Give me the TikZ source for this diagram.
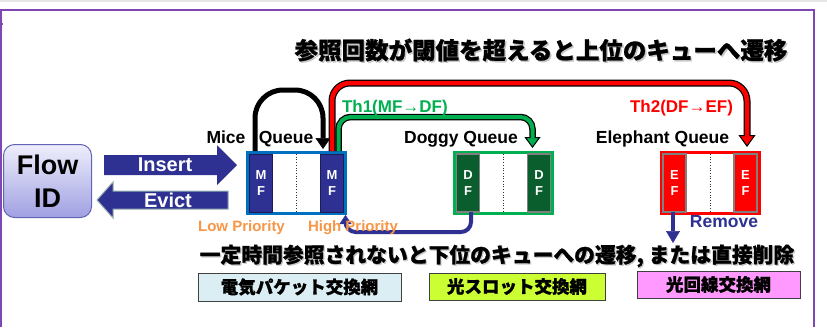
\documentclass[tikz,border=0pt]{standalone}
\usepackage{fontspec}
\setmainfont{Liberation Sans}
\newfontfamily\jp{Noto Sans CJK JP}[BoldFeatures={FakeBold=1}]
\usetikzlibrary{arrows.meta,calc}
\definecolor{navy}{RGB}{46,49,146}
\definecolor{qblue}{RGB}{0,112,192}
\definecolor{qgreen}{RGB}{0,176,80}
\definecolor{dgreen}{RGB}{10,94,46}
\definecolor{qred}{RGB}{255,0,0}
\definecolor{prio}{RGB}{247,150,70}
\definecolor{framepurple}{RGB}{128,70,180}
\definecolor{boxA}{RGB}{218,238,243}
\definecolor{boxB}{RGB}{204,255,51}
\definecolor{boxC}{RGB}{255,153,255}
\definecolor{cellgray}{RGB}{128,128,128}
\definecolor{flowtop}{RGB}{238,238,252}
\definecolor{flowbot}{RGB}{160,160,226}
\definecolor{flowborder}{RGB}{100,100,180}
\definecolor{evictedge}{RGB}{150,175,175}
\begin{document}
\begin{tikzpicture}[x=1pt,y=-1pt,
  every node/.style={inner sep=0pt, outer sep=0pt},
  lbl/.style={font=\bfseries\fontsize{#1}{#1}\selectfont},
  qbox/.style={draw=#1, line width=3pt, fill=white, minimum width=98pt, minimum height=61pt},
  cellbox/.style={fill=#1, minimum width=23pt, minimum height=58pt, text=white, align=center,
    font=\bfseries\fontsize{13}{16}\selectfont},
  slotline/.style={dotted, line width=0.7pt, black!80},
  jpbox/.style={fill=#1, draw=black!75, line width=1pt, font=\jp\bfseries\fontsize{17.5}{17.5}\selectfont},
  titlefont/.style={font=\jp\bfseries\fontsize{#1}{#1}\selectfont},
  bigarrowtext/.style={text=white, font=\bfseries\fontsize{20}{20}\selectfont}
]
\useasboundingbox (0,0) rectangle (827,327);
\fill[white] (0,0) rectangle (827,327);
% frame
\draw[gray!20, line width=2pt] (0,1) -- (827,1);
\draw[framepurple, line width=2pt] (1,327) -- (1,10) -- (814,10) -- (814,327);
\draw[framepurple, line width=1.5pt] (0,24) -- (3,24);

% title (with soft shadow)
\node[titlefont=23.5, text=gray!45] (titleshadow) at (542.5,51.5)
  {参照回数が閾値を超えると上位のキューへ遷移};
\node[titlefont=23.5] (title) at (541,50)
  {参照回数が閾値を超えると上位のキューへ遷移};

% Flow ID
\node[draw=flowborder, line width=1pt, rounded corners=11pt, top color=flowtop, bottom color=flowbot,
  minimum width=88pt, minimum height=73pt, align=center,
  font=\bfseries\fontsize{27}{32.5}\selectfont] (flow) at (47.5,181) {Flow\\ID};

% Insert / Evict
\fill[navy] (104,155) -- (217,155) -- (217,145) -- (237,165) -- (217,185) -- (217,175) -- (104,175) -- cycle;
\node[bigarrowtext] (insert) at (165,165) {Insert};
\filldraw[fill=navy, draw=evictedge, line width=1pt] (228,191) -- (113,191) -- (113,182) -- (97,200)
  -- (113,218) -- (113,209) -- (228,209) -- cycle;
\node[bigarrowtext] (evict) at (168,200) {Evict};

% queues
\node[qbox=qblue] (mq) at (296.5,183) {};
\node[qbox=qgreen] (dq) at (503,183) {};
\node[qbox=qred] (eq) at (710,183) {};
\foreach \q in {mq,dq,eq}{
  \draw[slotline] ($(\q.center)+(0,-29)$) -- ($(\q.center)+(0,29)$);
}
\node[cellbox=navy, draw=navy!60!black, line width=0.8pt] (mL) at (261,183) {M\\F};
\node[cellbox=navy, draw=navy!60!black, line width=0.8pt] (mR) at (332,183) {M\\F};
\node[cellbox=dgreen, draw=cellgray, line width=1.2pt] (dL) at (468,183) {D\\F};
\node[cellbox=dgreen, draw=cellgray, line width=1.2pt] (dR) at (539,183) {D\\F};
\node[cellbox=qred, draw=cellgray, line width=1.2pt] (eL) at (674.5,183) {E\\F};
\node[cellbox=qred, draw=cellgray, line width=1.2pt] (eR) at (745.5,183) {E\\F};

% connector end points
\coordinate (bs) at ($(mL.north)+(-6,-3)$);
\coordinate (be) at ($(mR.north)+(-9,-5)$);
\coordinate (rs) at ($(mR.north)+(0,-3)$);
\coordinate (re) at ($(eR.north)+(1.5,-7)$);
\coordinate (gs) at ($(mR.north)+(6.5,-3)$);
\coordinate (ge) at ($(dR.north)+(-6.5,-6)$);
\coordinate (ds) at ($(dL.south)+(3,0)$);
\coordinate (dt) at ($(mq.south east)+(0,1.5)$);
\coordinate (rm1) at ($(eL.south)+(-1.5,0)$);
\coordinate (rm2) at ($(rm1)+(0,31)$);

% black loop
\draw[black, line width=5pt, rounded corners=28pt,
  -{Triangle[width=15pt,length=11pt,line width=0.5pt]}] (bs) -- ++(0,-61) -| (be);
% red Th2
\draw[black, line width=7pt, rounded corners=18pt,
  -{Triangle[width=17pt,length=12pt,line width=1pt,fill=qred]}] (rs) -- ++(0,-68) -| (re);
\draw[qred, line width=4.5pt, rounded corners=18pt, shorten >=11pt] (rs) -- ++(0,-68) -| (re);
% green Th1
\draw[black, line width=6.5pt, rounded corners=12pt,
  -{Triangle[width=16pt,length=11pt,line width=1pt,fill=qgreen]}] (gs) -- ++(0,-34) -| (ge);
\draw[qgreen, line width=4pt, rounded corners=12pt, shorten >=10pt] (gs) -- ++(0,-34) -| (ge);
% blue return
\draw[navy, line width=4pt, rounded corners=10pt,
  -{Triangle[width=12pt,length=9pt,line width=0.5pt]}] (ds) -- ++(0,20) -| (dt);
% remove
\draw[navy, line width=4pt, -{Triangle[width=14pt,length=12pt,line width=0.5pt]}] (rm1) -- (rm2);

% labels
\node[lbl=17.5, anchor=base] (micel) at (226,143) {Mice};
\node[lbl=17.5, anchor=base] (queuel) at (286,143) {Queue};
\node[lbl=17.5, anchor=base] (doggyl) at (461,143) {Doggy Queue};
\node[lbl=17.5, anchor=base] (elephl) at (662.5,143) {Elephant Queue};
\node[lbl=17, text=qgreen, anchor=base west] (th1) at (342,112) {Th1(MF→DF)};
\node[lbl=17, text=qred, anchor=base east] (th2) at (733,112) {Th2(DF→EF)};
\node[lbl=15, text=prio, anchor=base] (low) at (241.5,231) {Low Priority};
\node[lbl=15, text=prio, anchor=base] (high) at (353,231) {High Priority};
\node[lbl=17.5, text=navy, anchor=base] (remove) at (724,227) {Remove};

% bottom text (with soft shadow)
\node[titlefont=20.8, text=gray!45] (subshadow) at (498.2,257.2)
  {一定時間参照されないと下位のキューへの遷移, または直接削除};
\node[titlefont=20.8] (sub) at (497,256)
  {一定時間参照されないと下位のキューへの遷移, または直接削除};

% network boxes
\node[jpbox=boxA, minimum width=203pt, minimum height=28pt] (netA) at (299.5,287) {電気パケット交換網};
\node[jpbox=boxB, minimum width=176pt, minimum height=27pt] (netB) at (517,286.5) {光スロット交換網};
\node[jpbox=boxC, minimum width=163pt, minimum height=27pt] (netC) at (718.5,284.5) {光回線交換網};
\end{tikzpicture}
\end{document}
